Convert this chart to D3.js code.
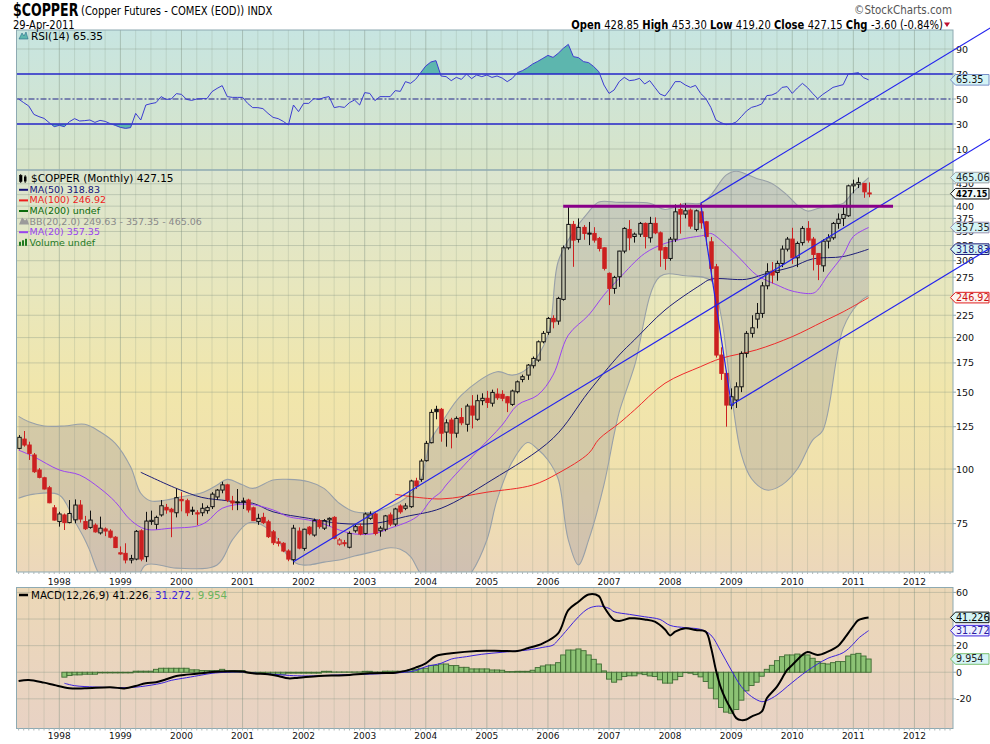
<!DOCTYPE html>
<html>
<head>
<meta charset="utf-8">
<script src="https://cdn.jsdelivr.net/npm/d3@7"></script>
<style>
  body { margin: 0; background: #fff; }
  svg { display: block; }
  text { font-family: "DejaVu Sans", sans-serif; }
</style>
</head>
<body>
<svg id="chart" width="990" height="744"></svg>
<script>
// ---- data (monthly, cents/lb) ----
// [month, open, high, low, close]
const ohlc = [
  ["1997-05",111.5,119.6,110.9,118.2],["1997-06",117.1,122.2,112.5,113.5],["1997-07",113.5,115.5,104.9,108.6],
  ["1997-08",107.7,108.8,98.0,98.6],["1997-09",99.5,100.5,95.2,95.7],["1997-10",95.5,96.0,89.8,90.0],
  ["1997-11",90.6,91.5,83.5,83.7],["1997-12",81.5,82.7,76.2,76.4],
  ["1998-01",75.8,79.8,73.8,78.9],["1998-02",78.5,79.1,72.5,75.4],["1998-03",75.4,84.9,75.1,79.1],
  ["1998-04",76.5,85.2,75.1,82.7],["1998-05",82.7,84.9,75.4,76.8],["1998-06",75.8,78.1,72.5,73.0],
  ["1998-07",73.5,80.3,73.0,76.4],["1998-08",74.4,75.1,71.5,71.8],["1998-09",71.4,77.8,70.8,73.2],
  ["1998-10",72.9,73.5,70.2,72.1],["1998-11",72.1,72.8,69.4,69.8],["1998-12",69.8,70.2,65.9,66.1],
  ["1999-01",64.3,66.5,63.6,63.9],["1999-02",64.1,67.6,60.8,61.9],["1999-03",61.9,63.6,60.8,62.4],
  ["1999-04",62.2,72.5,61.8,72.0],["1999-05",72.2,72.8,61.5,62.2],["1999-06",63.0,79.8,61.3,76.0],
  ["1999-07",75.8,80.3,74.5,76.3],["1999-08",74.7,78.2,72.8,77.5],["1999-09",78.5,84.9,77.8,82.4],
  ["1999-10",81.7,83.2,79.0,80.6],["1999-11",80.9,81.5,69.8,79.8],["1999-12",79.4,90.3,77.5,86.0],
  ["2000-01",85.2,88.5,80.0,84.6],["2000-02",84.6,85.5,78.0,79.4],["2000-03",80.5,82.0,78.5,80.3],
  ["2000-04",79.4,80.5,74.4,78.9],["2000-05",79.4,83.5,78.0,81.3],["2000-06",80.3,82.5,79.0,81.6],
  ["2000-07",82.0,88.5,81.0,87.6],["2000-08",86.3,90.0,85.0,89.5],["2000-09",89.5,93.5,88.0,92.0],
  ["2000-10",92.0,92.5,84.0,84.9],["2000-11",84.5,86.8,80.5,83.6],["2000-12",84.1,90.0,80.5,83.8],
  ["2001-01",84.5,86.0,81.0,84.0],["2001-02",84.9,85.5,79.5,80.6],["2001-03",81.5,82.0,76.0,76.2],
  ["2001-04",75.8,79.0,74.5,77.1],["2001-05",77.5,79.4,74.8,75.4],["2001-06",75.7,76.5,69.5,70.0],
  ["2001-07",71.8,72.5,67.0,67.8],["2001-08",68.1,69.5,66.5,67.6],["2001-09",67.6,68.0,64.5,64.9],
  ["2001-10",64.9,65.5,61.5,62.2],["2001-11",62.0,74.5,60.4,73.2],["2001-12",72.1,73.5,65.5,65.9],
  ["2002-01",65.8,73.0,65.0,72.8],["2002-02",73.6,74.0,70.5,71.1],["2002-03",70.6,77.0,70.0,76.2],
  ["2002-04",76.2,76.8,73.0,73.8],["2002-05",73.2,76.8,72.5,76.2],["2002-06",76.5,77.5,74.0,77.1],
  ["2002-07",77.5,78.0,69.0,69.4],["2002-08",67.3,69.5,66.8,68.8],["2002-09",67.8,68.8,66.5,67.6],
  ["2002-10",66.2,72.0,65.8,71.2],["2002-11",72.2,74.5,71.5,73.8],["2002-12",73.8,75.0,70.5,71.0],
  ["2003-01",71.2,79.5,70.8,78.9],["2003-02",77.1,80.0,76.5,78.9],["2003-03",78.9,79.5,70.5,71.2],
  ["2003-04",72.2,74.0,70.0,73.2],["2003-05",72.8,78.5,72.0,78.1],["2003-06",78.5,79.5,74.0,74.8],
  ["2003-07",74.8,81.5,74.0,81.0],["2003-08",82.3,83.0,79.0,79.8],["2003-09",81.3,83.5,80.5,82.3],
  ["2003-10",82.0,94.5,81.5,93.9],["2003-11",93.9,95.5,90.0,91.4],["2003-12",94.7,105.5,93.5,104.3],
  ["2004-01",104.5,116.0,104.0,114.5],["2004-02",114.9,137.0,114.5,134.8],["2004-03",137.0,139.6,130.0,135.3],
  ["2004-04",137.0,138.0,115.5,120.8],["2004-05",121.5,130.0,112.5,127.6],["2004-06",129.5,131.0,111.5,120.8],
  ["2004-07",120.8,132.0,118.0,130.6],["2004-08",131.2,138.0,126.0,127.6],["2004-09",126.6,141.0,121.8,139.4],
  ["2004-10",139.4,147.7,123.9,132.9],["2004-11",130.0,148.0,129.0,143.4],["2004-12",143.4,149.1,140.0,145.2],
  ["2005-01",145.2,151.0,138.0,142.0],["2005-02",141.5,152.0,139.0,149.8],["2005-03",148.5,153.0,144.0,145.6],
  ["2005-04",148.3,151.5,143.0,145.2],["2005-05",146.4,147.0,135.0,141.8],["2005-06",140.6,152.0,139.5,150.9],
  ["2005-07",150.3,159.5,149.0,158.4],["2005-08",160.4,164.5,158.0,162.7],["2005-09",164.1,174.0,160.0,173.0],
  ["2005-10",172.4,181.0,170.0,179.2],["2005-11",177.6,197.0,176.0,195.6],["2005-12",195.6,207.0,194.0,204.5],
  ["2006-01",205.6,223.0,203.0,221.3],["2006-02",221.3,225.0,210.0,217.4],["2006-03",218.2,248.0,214.0,245.9],
  ["2006-04",244.6,325.0,243.0,321.1],["2006-05",321.1,400.0,318.0,363.3],["2006-06",363.3,370.0,290.5,334.4],
  ["2006-07",335.7,375.0,330.0,357.6],["2006-08",357.6,362.0,335.0,346.4],["2006-09",347.0,368.0,325.7,346.4],
  ["2006-10",346.4,358.0,330.0,334.4],["2006-11",337.4,340.0,315.0,320.0],["2006-12",321.1,322.0,285.0,288.1],
  ["2007-01",280.6,282.0,237.4,259.2],["2007-02",259.2,277.0,252.0,274.7],["2007-03",275.6,316.0,261.4,315.6],
  ["2007-04",315.6,358.0,312.0,355.7],["2007-05",353.8,371.6,317.0,338.5],["2007-06",340.8,348.0,330.0,345.1],
  ["2007-07",345.1,368.0,340.0,365.2],["2007-08",365.2,367.0,320.0,340.8],["2007-09",338.5,378.1,330.0,365.2],
  ["2007-10",365.2,377.0,345.0,347.5],["2007-11",347.5,350.0,290.5,317.4],["2007-12",321.5,323.0,285.9,303.6],
  ["2008-01",303.6,340.0,300.0,336.0],["2008-02",336.0,403.7,331.0,388.2],["2008-03",393.0,406.0,346.0,383.5],
  ["2008-04",383.5,406.0,375.0,390.3],["2008-05",391.7,395.0,355.0,360.0],["2008-06",353.8,393.0,350.0,390.3],
  ["2008-07",388.2,406.0,355.0,366.4],["2008-08",368.3,370.0,325.0,340.8],["2008-09",331.4,340.0,270.0,288.1],
  ["2008-10",290.5,295.0,180.0,182.4],["2008-11",182.4,190.0,160.0,165.6],["2008-12",165.6,168.0,125.0,140.1],
  ["2009-01",140.1,153.0,137.0,146.4],["2009-02",143.9,158.0,138.0,154.3],["2009-03",154.3,186.0,150.0,184.0],
  ["2009-04",184.0,207.0,180.0,204.5],["2009-05",204.5,225.0,200.0,210.6],["2009-06",220.5,240.0,210.0,227.2],
  ["2009-07",227.2,268.0,222.0,262.8],["2009-08",262.8,296.0,258.0,283.0],["2009-09",284.0,298.0,266.2,278.1],
  ["2009-10",282.0,300.0,270.0,295.7],["2009-11",295.7,325.0,290.0,318.9],["2009-12",318.9,340.0,315.0,336.2],
  ["2010-01",336.2,356.9,295.0,304.6],["2010-02",304.6,332.0,290.0,328.6],["2010-03",330.0,360.0,325.0,355.7],
  ["2010-04",355.7,369.6,330.0,334.4],["2010-05",336.2,340.0,285.0,310.1],["2010-06",311.7,312.0,270.8,294.2],
  ["2010-07",292.0,336.0,283.0,332.6],["2010-08",332.6,345.0,320.0,338.5],["2010-09",338.5,368.0,335.0,365.2],
  ["2010-10",365.2,385.0,355.0,373.5],["2010-11",374.9,400.0,360.0,382.9],["2010-12",380.2,448.0,378.0,445.2],
  ["2011-01",445.2,460.0,428.0,449.2],["2011-02",449.0,465.4,440.0,453.3],["2011-03",450.9,452.0,418.0,431.4],
  ["2011-04",428.85,453.3,419.2,427.15]
];

const ma20 = [["1997-05",110.5],["1997-08",106.7],["1998-01",99.5],["1998-05",96.9],["1998-09",90.3],["1998-12",84.1],
  ["1999-03",76.4],["1999-06",72.8],["1999-11",73.2],["2000-04",74.0],["2000-06",75.8],["2000-09",81.3],["2001-02",83.1],
  ["2001-07",80.6],["2001-10",77.8],["2002-02",76.4],["2002-05",74.8],["2002-08",72.5],["2002-11",71.0],["2003-03",71.2],
  ["2003-06",73.2],["2003-10",76.2],["2003-12",79.1],["2004-02",84.9],["2004-04",88.7],["2004-05",91.9],["2004-11",109.5],
  ["2005-04",126.1],["2005-07",140.1],["2005-11",147.7],["2006-02",164.1],["2006-05",202.6],["2006-09",225.2],["2006-12",250.3],
  ["2007-03",273.3],["2007-08",311.7],["2007-12",328.6],["2008-04",337.4],["2008-08",343.6],["2008-09",346.4],["2008-12",326.0],
  ["2009-03",301.2],["2009-06",278.1],["2009-10",264.0],["2010-01",255.6],["2010-05",252.6],["2010-06",257.0],["2010-08",278.1],
  ["2010-11",309.1],["2011-01",340.8],["2011-04",357.35]];

const ma50 = [["1999-05",98.3],["1999-12",90.3],["2000-05",86.1],["2000-10",84.6],["2000-12",83.8],["2001-03",83.5],
  ["2001-07",79.8],["2002-02",77.1],["2002-08",75.1],["2003-03",75.1],["2003-09",77.8],["2004-04",81.3],["2005-02",94.4],
  ["2006-02",117.6],["2006-09",150.3],["2007-03",182.4],["2007-06",197.6],["2007-12",231.3],["2008-07",264.0],["2008-09",272.1],
  ["2009-04",272.0],["2009-08",280.6],["2010-01",290.5],["2010-05",302.9],["2010-11",306.6],["2011-04",318.83]];

const ma100 = [["2003-07",87.5],["2004-04",85.4],["2005-01",88.5],["2005-10",91.9],["2006-03",97.8],["2006-09",108.6],
  ["2006-11",117.0],["2007-03",127.3],["2007-06",136.5],["2007-12",157.2],["2008-07",171.6],["2008-11",179.2],["2009-06",187.5],
  ["2010-01",201.0],["2010-07",217.4],["2010-11",229.1],["2011-04",246.92]];

const bbUpper = [["1997-05",132.0],["1997-07",128.3],["1997-10",125.5],["1998-02",125.5],["1998-06",126.6],["1998-09",121.7],
  ["1998-12",114.5],["1999-03",101.2],["1999-05",88.0],["1999-07",84.5],["1999-10",84.9],["2000-01",86.4],["2000-05",88.2],
  ["2000-08",91.9],["2000-10",94.7],["2001-01",92.0],["2001-03",90.3],["2001-07",94.4],["2001-10",94.7],["2002-02",93.5],
  ["2002-05",90.3],["2002-08",83.5],["2002-11",79.8],["2003-03",79.8],["2003-06",82.0],["2003-09",85.7],["2003-12",94.4],
  ["2004-01",104.9],["2004-02",116.5],["2004-04",127.0],["2004-08",147.7],["2005-03",167.0],["2005-06",164.1],["2005-09",170.1],
  ["2006-01",202.6],["2006-03",298.3],["2006-06",349.4],["2006-09",388.2],["2006-11",409.0],["2007-03",408.0],["2007-09",406.0],
  ["2007-12",393.0],["2008-04",406.0],["2008-07",406.0],["2008-09",424.0],["2008-12",471.0],["2009-02",481.0],["2009-06",463.0],
  ["2009-09",451.0],["2009-12",424.0],["2010-02",402.0],["2010-04",389.8],["2010-06",395.0],["2010-09",402.4],["2010-11",405.9],
  ["2011-01",431.4],["2011-04",465.06]];

const bbLower = [["1997-05",85.7],["1997-08",87.6],["1998-01",87.2],["1998-04",76.0],["1998-06",69.0],["1998-07",65.0],
  ["1998-09",57.0],["1998-12",53.0],["1999-03",52.0],["1999-06",60.3],["1999-12",59.3],["2000-08",60.3],["2000-11",68.8],
  ["2001-02",75.1],["2001-04",75.1],["2001-07",71.2],["2001-10",63.0],["2001-12",60.5],["2002-02",60.3],["2002-05",61.2],
  ["2002-08",61.9],["2002-11",63.2],["2003-03",64.8],["2003-06",66.0],["2003-08",65.5],["2003-10",63.0],["2003-12",57.5],
  ["2004-05",50.0],["2004-10",58.0],["2005-01",68.8],["2005-03",85.0],["2005-06",104.0],["2005-09",115.0],["2005-11",111.0],
  ["2006-01",104.9],["2006-03",95.0],["2006-05",68.8],["2006-07",60.3],["2006-09",68.8],["2006-12",92.0],["2007-02",120.0],
  ["2007-03",135.0],["2007-06",172.0],["2007-11",276.0],["2008-04",277.0],["2008-09",270.0],["2008-11",225.0],["2009-01",150.0],
  ["2009-03",108.0],["2009-05",95.0],["2009-08",89.5],["2009-11",92.0],["2010-02",100.0],["2010-05",116.5],["2010-07",122.6],
  ["2010-11",210.0],["2011-02",239.7],["2011-04",249.63]];

// RSI(14), one value per month from 1997-05
const rsi = [50.0,47.1,44.4,37.7,35.9,34.5,31.1,27.9,28.9,27.9,
  31.9,34.3,32.4,32.7,33.2,31.3,32.9,32.1,30.3,28.9,
  27.3,26.5,27.1,38.5,33.2,45.2,46.3,47.1,51.9,49.7,
  50.0,54.3,53.7,49.7,48.9,50.0,50.3,50.3,55.9,58.5,
  60.7,51.9,51.3,51.3,51.3,46.5,43.1,43.1,42.3,38.5,
  35.3,34.3,32.1,29.2,45.2,39.9,46.5,46.5,50.3,49.7,
  51.1,51.9,43.1,43.9,43.3,47.1,49.2,45.2,55.1,54.5,
  48.7,51.9,51.9,51.9,56.7,56.1,63.9,62.5,65.7,71.1,
  76.4,79.6,80.7,68.4,67.9,64.7,67.3,65.7,70.0,66.3,
  69.2,67.9,69.2,67.3,68.4,66.8,63.9,66.5,71.1,72.7,
  75.1,78.0,80.1,82.5,84.9,83.3,86.5,90.5,93.7,83.9,
  83.1,79.9,79.1,75.9,71.9,61.2,54.5,57.2,63.9,67.3,
  64.7,65.2,66.5,62.0,64.7,59.3,54.0,52.4,57.7,63.9,
  63.9,61.2,59.3,60.9,54.5,50.5,43.3,33.2,31.1,29.5,
  30.0,31.6,35.9,40.4,43.3,44.4,46.0,52.7,53.2,55.1,
  59.3,59.9,54.5,58.8,62.5,59.1,54.5,50.3,53.7,56.4,
  59.3,60.4,61.5,70.0,70.5,71.1,67.1,65.35];

const macdLine = [["1997-05",-6.6],["1997-07",-5.8],["1997-10",-7.8],["1997-12",-9.6],["1998-03",-12.0],["1998-06",-12.1],
  ["1998-11",-11.3],["1999-02",-12.1],["1999-04",-10.3],["1999-06",-8.3],["1999-08",-7.6],["1999-10",-5.3],["1999-12",-2.8],
  ["2000-02",-1.8],["2000-05",-0.8],["2000-07",0.2],["2000-11",0.7],["2001-01",0.5],["2001-03",-0.8],["2001-06",-1.6],
  ["2001-08",-2.8],["2001-10",-4.6],["2001-12",-4.1],["2002-04",-2.8],["2002-09",-2.3],["2003-02",-0.8],["2003-07",-0.3],
  ["2003-09",1.0],["2003-11",3.5],["2004-01",6.7],["2004-03",12.2],["2004-06",14.2],["2004-11",16.0],["2005-04",16.0],
  ["2005-07",16.0],["2005-09",18.0],["2005-12",21.7],["2006-03",29.2],["2006-05",46.7],["2006-07",53.0],["2006-09",58.5],
  ["2006-11",57.2],["2006-12",49.2],["2007-02",39.2],["2007-03",38.5],["2007-05",40.5],["2007-06",40.5],["2007-08",39.7],
  ["2007-10",38.0],["2007-12",32.2],["2008-01",27.7],["2008-02",30.5],["2008-04",33.0],["2008-06",31.7],["2008-08",30.5],
  ["2008-09",19.2],["2008-10",1.7],["2008-11",-12.0],["2008-12",-21.0],["2009-01",-28.0],["2009-02",-34.5],["2009-03",-36.0],
  ["2009-04",-35.5],["2009-05",-33.3],["2009-07",-29.6],["2009-08",-19.6],["2009-10",-10.8],["2009-12",1.7],["2010-01",5.5],
  ["2010-03",13.0],["2010-04",15.2],["2010-06",13.0],["2010-08",15.5],["2010-10",19.7],["2010-11",24.2],["2011-01",34.7],
  ["2011-02",39.2],["2011-04",41.226]];

const macdSignal = [["1998-02",-8.3],["1998-04",-10.1],["1998-08",-11.1],["1999-02",-11.6],["1999-05",-10.8],["1999-09",-8.3],
  ["1999-11",-6.1],["2000-02",-4.1],["2000-05",-2.1],["2000-07",-0.8],["2000-10",0.0],["2001-01",0.2],["2001-03",-0.6],
  ["2001-06",-1.3],["2001-08",-1.8],["2001-11",-2.6],["2002-02",-2.8],["2002-04",-2.6],["2002-10",-1.8],["2003-03",-1.3],
  ["2003-08",-0.3],["2003-11",1.2],["2004-01",4.2],["2004-04",6.7],["2004-06",9.9],["2004-09",11.7],["2004-12",13.5],
  ["2005-04",15.0],["2005-07",16.0],["2005-09",16.7],["2005-12",18.7],["2006-02",20.4],["2006-03",24.2],["2006-05",33.0],
  ["2006-07",41.7],["2006-09",48.0],["2006-11",49.7],["2007-01",48.0],["2007-02",45.5],["2007-05",43.5],["2007-08",41.7],
  ["2007-11",39.7],["2008-01",35.2],["2008-04",33.5],["2008-07",32.2],["2008-09",28.0],["2008-11",15.5],["2009-01",1.7],
  ["2009-03",-10.8],["2009-05",-18.3],["2009-07",-22.1],["2009-08",-21.3],["2009-10",-17.1],["2009-12",-10.8],["2010-02",-4.6],
  ["2010-04",1.2],["2010-06",6.2],["2010-08",10.5],["2010-11",14.7],["2011-01",21.2],["2011-02",25.5],["2011-04",31.272]];

// MACD histogram, one bar per month from 1998-02
const histStart = "1998-02";
const macdHist = [
  -3.7,-2.5,-2.0,-2.0,-1.5,-1.5,-1.5,-0.5,-0.5,-0.5,-0.5,-0.5,-0.5,-0.5,
  0.8,0.8,0.8,0.8,2.2,3.0,3.0,3.0,3.0,3.0,3.0,1.8,1.8,
  1.3,1.3,1.3,1.3,2.2,1.2,1.2,1.2,1.2,
  -0.5,-0.5,-0.5,-0.5,-1.5,-1.5,-1.5,-1.5,-0.7,-0.7,-0.7,-0.7,-0.7,-0.7,-0.7,
  0.7,0.7,0.2,0.2,0.2,0.2,0.2,0.2,0.7,0.7,0.2,0.2,
  0.8,0.8,0.8,0.8,0.8,2.0,2.0,3.0,3.0,5.2,5.2,6.2,6.2,5.0,5.0,3.7,3.7,
  2.5,2.5,2.5,2.5,1.7,1.7,1.5,0.5,0.5,0.7,0.7,0.7,
  1.5,3.5,4.7,5.5,5.5,7.2,13,16.7,16.7,17.5,16.2,13,9.7,6.2,1.0,
  -5.2,-7.5,-5.7,-3.2,-2.7,-2.7,-1.2,-1.8,-2.8,-3.2,-5.7,-8.2,-8.2,-5.7,-3.2,
  -0.3,-0.7,-1.8,-3.5,-7,-12,-20,-26.5,-30,-30.8,-28,-21,-14,-10,-7.5,-3,2.2,
  5.2,8.7,11.7,13,13,13.7,13,13,10.5,8,6.7,6.2,7.2,8,8,12.2,13.5,14.2,12.2,9.954];

// hand-drawn annotations: [month index from 1997-05, price]
const trendLines = [
  [[54, 61.3], [190.9, 570]],
  [[134, 406], [190.9, 1024]],
  [[134, 406], [140.1, 138.9]],
  [[140, 140.1], [190.9, 320.6]]
];
const resistance = [[107, 400], [171.8, 400]];

const years = d3.range(1998, 2013);
const priceTicks = [75, 100, 125, 150, 175, 200, 225, 250, 275, 300, 325, 350, 375, 400, 425, 450];
const priceLabels = [75, 100, 125, 150, 175, 200, 225, 250, 275, 300, 325, 350, 375, 400, 450];
const rsiTicks = [10, 30, 50, 70, 90];
const macdTicks = [-20, 0, 20, 40, 60];
const macdLabels = [-20, 0, 20, 60];

// ---- layout ----
const svg = d3.select('#chart');
const L = 16.5, R = 953;
const rsiP = { top: 30, bottom: 170 };
const priceP = { top: 170, bottom: 572 };
const macdP = { top: 587.5, bottom: 728.5 };

const idx = s => (+s.slice(0, 4) - 1997) * 12 + (+s.slice(5, 7) - 5);
const x = d3.scaleLinear().domain([0, 167]).range([18.6, 868.6]);
const y = d3.scaleLog().domain([58.1, 484]).range([priceP.bottom, priceP.top]);
const yr = d3.scaleLinear().domain([-6.8, 105.2]).range([rsiP.bottom, rsiP.top]);
const ym = d3.scaleLinear().domain([-42.3, 63.7]).range([macdP.bottom, macdP.top]);
const step = x(1) - x(0);

const defs = svg.append('defs');
function grad (id, stops) {
  const g = defs.append('linearGradient').attr('id', id).attr('x1', 0).attr('x2', 0).attr('y1', 0).attr('y2', 1);
  stops.forEach(([o, c]) => g.append('stop').attr('offset', o).attr('stop-color', c));
}
grad('gRsi', [[0, '#c7e5e1'], [1, '#d8e4c8']]);
grad('gPrice', [[0, '#dbe5d0'], [0.3, '#e8e7bd'], [0.55, '#f1e6ab'], [0.78, '#f0e0ae'], [1, '#ecd7bb']]);
grad('gMacd', [[0, '#ecd8b7'], [1, '#e8d2c4']]);

function clip (id, p) {
  defs.append('clipPath').attr('id', id).append('rect')
    .attr('x', L).attr('y', p.top).attr('width', R - L).attr('height', p.bottom - p.top);
}
clip('cRsi', rsiP); clip('cPrice', priceP); clip('cMacd', macdP);

function panelBg (p, fill) {
  svg.append('rect').attr('x', L).attr('y', p.top).attr('width', R - L).attr('height', p.bottom - p.top)
    .attr('fill', `url(#${fill})`);
}
panelBg(rsiP, 'gRsi'); panelBg(priceP, 'gPrice'); panelBg(macdP, 'gMacd');

// vertical grid (years + quarters)
function vGrid (p) {
  const g = svg.append('g');
  for (let i = 2; x(i) < R; i += 3) {
    const isYear = (i + 4) % 12 === 0;
    g.append('line').attr('x1', x(i)).attr('x2', x(i)).attr('y1', p.top).attr('y2', p.bottom)
      .attr('stroke', '#7f9080').attr('stroke-opacity', isYear ? 0.45 : 0.22);
  }
}
function hGrid (p, scale, vals) {
  const g = svg.append('g');
  vals.forEach(v => g.append('line').attr('x1', L).attr('x2', R).attr('y1', scale(v)).attr('y2', scale(v))
    .attr('stroke', '#7f9080').attr('stroke-opacity', 0.35));
}
[rsiP, priceP, macdP].forEach(vGrid);
hGrid(rsiP, yr, [10, 90]);
hGrid(priceP, y, priceTicks);
hGrid(macdP, ym, macdTicks);

// ---- RSI panel ----
const gR = svg.append('g').attr('clip-path', 'url(#cRsi)');
const rsiPts = rsi.map((v, i) => [i, v]);
defs.append('clipPath').attr('id', 'cOver').append('rect').attr('x', L).attr('y', rsiP.top).attr('width', R - L).attr('height', yr(70) - rsiP.top);
defs.append('clipPath').attr('id', 'cUnder').append('rect').attr('x', L).attr('y', yr(30)).attr('width', R - L).attr('height', rsiP.bottom - yr(30));
gR.append('path').datum(rsiPts).attr('clip-path', 'url(#cOver)').attr('fill', '#5db6ae')
  .attr('d', d3.area().x(d => x(d[0])).y0(yr(70)).y1(d => yr(d[1])));
gR.append('path').datum(rsiPts).attr('clip-path', 'url(#cUnder)').attr('fill', '#5db6ae')
  .attr('d', d3.area().x(d => x(d[0])).y0(yr(30)).y1(d => yr(d[1])));
[70, 30].forEach(v => gR.append('line').attr('x1', L).attr('x2', R).attr('y1', yr(v)).attr('y2', yr(v))
  .attr('stroke', '#2525c8').attr('stroke-width', 1.3));
gR.append('line').attr('x1', L).attr('x2', R).attr('y1', yr(50)).attr('y2', yr(50))
  .attr('stroke', '#22228a').attr('stroke-dasharray', '6,2,2,2');
gR.append('path').datum(rsiPts).attr('fill', 'none').attr('stroke', '#3b3bd0').attr('stroke-width', 1)
  .attr('d', d3.line().x(d => x(d[0])).y(d => yr(d[1])));

// ---- price panel ----
const gP = svg.append('g').attr('clip-path', 'url(#cPrice)');
const pts = arr => arr.map(([d, v]) => [x(idx(d)), y(v)]);
const smooth = d3.line().curve(d3.curveCatmullRom.alpha(0.5));
const up = pts(bbUpper), lo = pts(bbLower).reverse();
gP.append('path').attr('d', smooth(up) + smooth(lo).replace(/^M/, 'L') + 'Z')
  .attr('fill', 'rgb(120,120,150)').attr('fill-opacity', 0.24);
[bbUpper, bbLower].forEach(a => gP.append('path').attr('d', smooth(pts(a)))
  .attr('fill', 'none').attr('stroke', '#98a0a8').attr('stroke-width', 1.1));
gP.append('path').attr('d', smooth(pts(ma100))).attr('fill', 'none').attr('stroke', '#ee2a2a');
gP.append('path').attr('d', smooth(pts(ma50))).attr('fill', 'none').attr('stroke', '#1c1c78');
gP.append('path').attr('d', smooth(pts(ma20))).attr('fill', 'none').attr('stroke', '#9a44f0');

// candles
const bw = 3.4;
ohlc.forEach((d, i) => {
  const [date, o, h, l, c] = d;
  const prev = i > 0 ? ohlc[i - 1][4] : o;
  const col = c >= prev ? '#111' : '#cc2020';
  const cx = Math.round(x(idx(date))) + 0.5;
  const top = y(Math.max(o, c)), bot = y(Math.min(o, c));
  gP.append('line').attr('x1', cx).attr('x2', cx).attr('y1', y(h)).attr('y2', top).attr('stroke', col);
  gP.append('line').attr('x1', cx).attr('x2', cx).attr('y1', bot).attr('y2', y(l)).attr('stroke', col);
  gP.append('rect').attr('x', cx - bw / 2).attr('y', top).attr('width', bw).attr('height', Math.max(bot - top, 1))
    .attr('fill', c < o ? col : 'none').attr('stroke', col).attr('stroke-width', 1);
});

// ---- MACD panel ----
const gM = svg.append('g').attr('clip-path', 'url(#cMacd)');
const h0 = idx(histStart);
gM.selectAll('rect.h').data(macdHist).join('rect')
  .attr('x', (v, i) => x(h0 + i) - step / 2).attr('width', step)
  .attr('y', v => Math.min(ym(v), ym(0))).attr('height', v => Math.abs(ym(v) - ym(0)))
  .attr('fill', '#8cc274').attr('stroke', '#3f6b33').attr('stroke-width', 0.9);
gM.append('path').attr('d', smooth(macdSignal.map(([d, v]) => [x(idx(d)), ym(v)])))
  .attr('fill', 'none').attr('stroke', '#3b22dd').attr('stroke-width', 1);
gM.append('path').attr('d', smooth(macdLine.map(([d, v]) => [x(idx(d)), ym(v)])))
  .attr('fill', 'none').attr('stroke', '#000').attr('stroke-width', 2);

// panel borders
[rsiP, priceP, macdP].forEach(p => svg.append('rect').attr('x', L).attr('y', p.top)
  .attr('width', R - L).attr('height', p.bottom - p.top).attr('fill', 'none').attr('stroke', '#8eaab2'));

// ---- axes ----
function rightLabels (scale, ticks, labels) {
  ticks.forEach(v => svg.append('line').attr('x1', R).attr('x2', R + 3).attr('y1', scale(v)).attr('y2', scale(v))
    .attr('stroke', '#8eaab2'));
  labels.forEach(v => svg.append('text').attr('x', R + 3).attr('y', scale(v) + 3.5).attr('font-size', 9.5)
    .attr('fill', '#111').text(v));
}
rightLabels(yr, rsiTicks, rsiTicks);
rightLabels(y, priceTicks, priceLabels);
rightLabels(ym, macdTicks, macdLabels);

function yearAxis (yy, p) {
  for (let i = 0; x(i) < R; i++) {
    svg.append('line').attr('x1', x(i)).attr('x2', x(i)).attr('y1', p.bottom).attr('y2', p.bottom + 2)
      .attr('stroke', '#b0b8b8');
  }
  years.forEach(yv => svg.append('text').attr('x', x(idx(`${yv}-01`))).attr('y', yy)
    .attr('text-anchor', 'middle').attr('font-size', 9).attr('fill', '#111').text(yv));
}
yearAxis(584.5, priceP);
yearAxis(739, macdP);

// value tags on the right
function tag (yPos, text, fill, stroke, color, bold) {
  const x0 = 950.5, x1 = 989, hh = 5.3;
  svg.append('path').attr('d', `M${x0},${yPos}L${x0 + 5},${yPos - hh}L${x1},${yPos - hh}L${x1},${yPos + hh}L${x0 + 5},${yPos + hh}Z`)
    .attr('fill', fill).attr('stroke', stroke);
  const t = svg.append('text').attr('x', x0 + 5.5).attr('y', yPos + 3.5).attr('font-size', bold ? 8.8 : 9.6)
    .attr('fill', color).attr('font-weight', bold ? 'bold' : 'normal').text(text);
  if (bold) t.attr('textLength', 31.5).attr('lengthAdjust', 'spacingAndGlyphs');
}
tag(yr(65.35), '65.35', '#d4f4f6', '#7890c8', '#111');
tag(y(465.06), '465.06', '#d4f4f6', '#9aa0a4', '#222');
tag(y(427.15), '427.15', '#f4fafa', '#111', '#000', true);
tag(y(357.35), '357.35', '#d4f4f6', '#9a90b0', '#222');
tag(y(318.83), '318.83', '#d4f4f6', '#1c1c78', '#1c1c78');
tag(y(246.92), '246.92', '#fdf4f0', '#e02020', '#cc1010');
tag(ym(41.226), '41.226', '#d4f4f6', '#111', '#000');
tag(ym(31.272), '31.272', '#eef0ff', '#3b22dd', '#2a1aa0');
tag(ym(9.954), '9.954', '#d4f4f6', '#7cc070', '#222');

// annotations
const ann = svg.append('g');
trendLines.forEach(([a, b]) => ann.append('line')
  .attr('x1', x(a[0])).attr('y1', y(a[1])).attr('x2', x(b[0])).attr('y2', y(b[1]))
  .attr('stroke', '#2222ee').attr('stroke-width', 1.2));
ann.append('line').attr('x1', x(resistance[0][0])).attr('x2', x(resistance[1][0]))
  .attr('y1', y(resistance[0][1])).attr('y2', y(resistance[1][1]))
  .attr('stroke', '#880088').attr('stroke-width', 3);

// ---- header (condensed look via horizontal scale) ----
function narrowText (px, py, sx, size, anchor) {
  return svg.append('g').attr('transform', `translate(${px},${py}) scale(${sx},1)`)
    .append('text').attr('font-family', '"Liberation Sans", sans-serif').attr('font-size', size)
    .attr('text-anchor', anchor || 'start');
}
narrowText(13, 15.5, 0.74, 17).attr('font-weight', 'bold').text('$COPPER');
narrowText(81, 15, 0.8, 12.5).text('(Copper Futures - COMEX (EOD)) INDX');
narrowText(13, 28.5, 0.8, 12.5).text('29-Apr-2011');
narrowText(952, 14, 0.86, 12, 'end').attr('fill', '#555').text('©StockCharts.com');
const ohlcTxt = narrowText(943, 28.5, 0.8, 12.5, 'end');
[['Open ', 1], ['428.85 ', 0], ['High ', 1], ['453.30 ', 0], ['Low ', 1], ['419.20 ', 0], ['Close ', 1], ['427.15 ', 0],
  ['Chg ', 1], ['-3.60 (-0.84%)', 0]].forEach(([t, b]) =>
  ohlcTxt.append('tspan').attr('font-weight', b ? 'bold' : 'normal').text(t));
svg.append('path').attr('d', 'M944,22.5L950,22.5L947,27Z').attr('fill', '#c01030');

// ---- legends ----
svg.append('path').attr('d', 'M19,39L22,33L24,36L26,32L28,39Z').attr('fill', '#5db6ae').attr('stroke', '#2a6a8a').attr('stroke-width', 0.6);
svg.append('text').attr('x', 31).attr('y', 40).attr('font-size', 10.5).text('RSI(14) 65.35');

// candle icon
svg.append('rect').attr('x', 19.5).attr('y', 175.5).attr('width', 2.5).attr('height', 6).attr('fill', '#000').attr('stroke', '#000').attr('stroke-width', 0.6);
svg.append('line').attr('x1', 20.7).attr('x2', 20.7).attr('y1', 174).attr('y2', 183).attr('stroke', '#000').attr('stroke-width', 0.8);
svg.append('rect').attr('x', 24).attr('y', 176.5).attr('width', 2.5).attr('height', 5).attr('fill', '#000');
svg.append('line').attr('x1', 25.2).attr('x2', 25.2).attr('y1', 175).attr('y2', 183).attr('stroke', '#000').attr('stroke-width', 0.8);
svg.append('text').attr('x', 31).attr('y', 182).attr('font-size', 10.5).text('$COPPER (Monthly) 427.15');

const legendRows = [
  ['MA(50) 318.83', '#141478', 'line'],
  ['MA(100) 246.92', '#ee1c1c', 'line'],
  ['MA(200) undef', '#0b6b0b', 'line'],
  ['BB(20,2.0) 249.63 - 357.35 - 465.06', '#8a8a8a', 'mount'],
  ['MA(20) 357.35', '#9a44f0', 'line'],
  ['Volume undef', '#1f7a1f', 'bars']
];
legendRows.forEach(([t, c, icon], k) => {
  const yy = 192.8 + k * 10.6;
  if (icon === 'line') {
    svg.append('line').attr('x1', 19).attr('x2', 28).attr('y1', yy - 3).attr('y2', yy - 3).attr('stroke', c).attr('stroke-width', 2);
  } else if (icon === 'mount') {
    svg.append('path').attr('d', `M19,${yy}L22,${yy - 7}L25,${yy - 4}L27,${yy - 6}L29,${yy}Z`).attr('fill', '#9a9a9a');
  } else {
    [0, 3, 6].forEach((dx, j) => svg.append('rect').attr('x', 19 + dx).attr('y', yy - 4 - j * 1.5)
      .attr('width', 2).attr('height', 4 + j * 1.5).attr('fill', c));
  }
  svg.append('text').attr('x', 29.5).attr('y', yy).attr('font-size', 9.5).attr('fill', c).text(t);
});

svg.append('line').attr('x1', 19).attr('x2', 28).attr('y1', 595).attr('y2', 595).attr('stroke', '#000').attr('stroke-width', 2.5);
const mt = svg.append('text').attr('x', 31).attr('y', 598.5).attr('font-size', 10.3);
mt.append('tspan').attr('fill', '#000').text('MACD(12,26,9) 41.226');
mt.append('tspan').attr('fill', '#3b22dd').text(', 31.272');
mt.append('tspan').attr('fill', '#6cb45c').text(', 9.954');
</script>
</body>
</html>
